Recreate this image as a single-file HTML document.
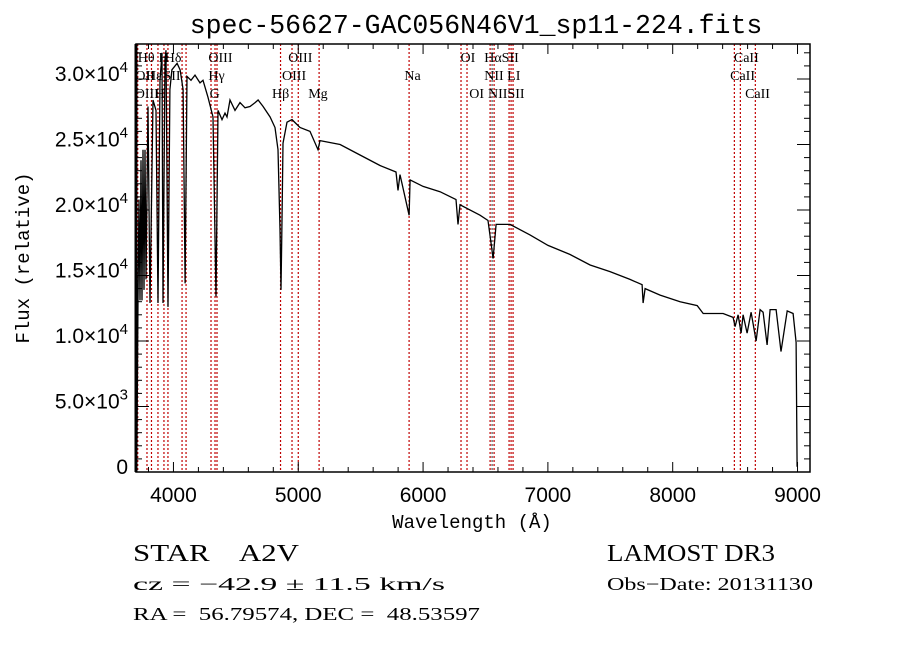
<!DOCTYPE html>
<html><head><meta charset="utf-8"><style>
body{margin:0;background:#fff;}
svg{display:block;}
text{fill:#000;}
</style></head><body>
<svg id="chart" width="900" height="649" viewBox="0 0 900 649" xmlns="http://www.w3.org/2000/svg">
<rect x="0" y="0" width="900" height="649" fill="#fff"/>
<text x="476" y="33" font-family="Liberation Mono, monospace" font-size="26.5" text-anchor="middle">spec-56627-GAC056N46V1_sp11-224.fits</text>
<g id="lines"></g>
<g id="labels" font-family="Liberation Serif, serif" font-size="14"></g>
<g id="spec"></g>
<g id="axes"></g>
<text x="472" y="528" font-family="Liberation Mono, monospace" font-size="19" text-anchor="middle">Wavelength (Å)</text>
<text transform="translate(29,258) rotate(-90)" font-family="Liberation Mono, monospace" font-size="19" text-anchor="middle">Flux (relative)</text>
<g font-family="Liberation Serif, serif">
<text x="133" y="561" font-size="24" textLength="166" lengthAdjust="spacingAndGlyphs" xml:space="preserve">STAR    A2V</text>
<text x="607" y="561" font-size="24" textLength="168" lengthAdjust="spacingAndGlyphs">LAMOST DR3</text>
<text x="133" y="590" font-size="18" textLength="312" lengthAdjust="spacingAndGlyphs">cz = −42.9 ± 11.5 km/s</text>
<text x="607" y="590" font-size="18" textLength="206" lengthAdjust="spacingAndGlyphs">Obs−Date: 20131130</text>
<text x="133" y="620" font-size="18" textLength="347" lengthAdjust="spacingAndGlyphs" xml:space="preserve">RA =  56.79574, DEC =  48.53597</text>
</g>
</svg>
<script>
const wave = [3700,3708,3716,3724,3732,3740,3748,3756,3764,3772,3780,3796,3812,3836,3860,3876,3892,3908,3916,3932,3940,3956,3972,3988,4029,4053,4077,4093,4109,4141,4173,4213,4237,4277,4317,4341,4357,4389,4413,4429,4453,4493,4533,4573,4613,4654,4678,4718,4774,4814,4838,4854,4862,4870,4878,4910,4950,5014,5094,5158,5174,5335,5495,5655,5783,5799,5815,5888,5896,6000,6136,6264,6280,6296,6456,6520,6561,6585,6697,6857,7001,7178,7338,7498,7658,7755,7763,7779,7899,8059,8196,8244,8404,8484,8500,8524,8548,8564,8596,8628,8668,8700,8724,8756,8780,8828,8868,8917,8965,8989,8997];
const flux = [0,2400,13100,20800,13100,23800,13100,24600,13900,24600,14700,27900,12900,28400,27600,12900,29900,32000,12900,31500,32200,12600,29200,30700,31200,30700,29200,14400,30200,29900,30300,29700,29900,28600,27100,13400,27600,26900,27400,27100,28400,27600,28200,27800,27900,28200,28400,27900,27100,26300,24600,18500,13900,19200,25100,26700,26900,26300,26000,24600,25300,25000,24200,23400,22900,21500,22700,19600,22300,21800,21400,20800,18900,20400,19600,19200,16300,18900,18900,18100,17300,16600,15800,15300,14700,14300,12900,14000,13500,13000,12700,12100,12100,11800,11100,12000,10600,12000,10600,12200,10000,12400,12200,9700,12400,12400,9200,12300,12100,9900,400];
const lineWaves = [3714,3788,3824,3876,3924,3956,4069,4101,4301,4333,4349,4858,4950,5000,5167,5888,6304,6352,6537,6553,6569,6689,6705,6721,8494,8542,8662];
const labelText = ["Hθ","H","Hδ","OIII","OIII","OI","HαSII","CaII","OII","Hε","SII","Hγ","OIII","Na","NII LI","CaII","OIII","H","G","Hβ","Mg","OI","NIISII","CaII"];
const labelWave = [3714,3880,3930,4280,4920,6300,6490,8490,3695,3780,3920,4280,4870,5850,6490,8460,3690,3850,4290,4790,5080,6370,6520,8580];
const labelRow = [0,0,0,0,0,0,0,0,1,1,1,1,1,1,1,1,2,2,2,2,2,2,2,2];
const xTicks = [4000,5000,6000,7000,8000,9000];
const yTicks = [0,5000,10000,15000,20000,25000,30000];
const yTickMant = ["0","5.0×10","1.0×10","1.5×10","2.0×10","2.5×10","3.0×10"];
const yTickExp = ["","3","4","4","4","4","4"];

const L=136,R=810,T=44,B=472;
const xmin=3700,xmax=9100;
function X(w){return L+(w-xmin)/(xmax-xmin)*(R-L);}
function Y(f){return B-f/10000*131;}
const NS='http://www.w3.org/2000/svg';
function mk(tag,parent,attrs){const e=document.createElementNS(NS,tag);for(const k in attrs)e.setAttribute(k,attrs[k]);parent.appendChild(e);return e;}

const gl=document.getElementById('lines');
lineWaves.forEach((w,i)=>{
  const gray=(w===6553);
  const l=mk('line',gl,{x1:X(w),x2:X(w),y1:T,y2:B,stroke:gray?'#555':'#c00000','stroke-width':1.2,'stroke-dasharray':'2,2'});
  
  
});
const glab=document.getElementById('labels');
labelText.forEach((t,i)=>{
  const e=mk('text',glab,{x:X(labelWave[i]),y:62+labelRow[i]*18});
  e.textContent=t;
  
  
});
const gs=document.getElementById('spec');
const pts=wave.map((w,i)=>X(w).toFixed(1)+','+Y(flux[i]).toFixed(1)).join(' ');
const pl=mk('polyline',gs,{points:pts,fill:'none',stroke:'#000','stroke-width':1.3});



const ga=document.getElementById('axes');
const fr=mk('rect',ga,{x:L,y:T,width:R-L,height:B-T,fill:'none',stroke:'#000','stroke-width':1.5});


mk('line',ga,{x1:L,x2:L,y1:T,y2:B,stroke:'#000','stroke-width':3});
for(let w=3800;w<=9100;w+=200){
  const major=(w%1000===0);const len=major?10:5;
  mk('line',ga,{x1:X(w),x2:X(w),y1:B,y2:B-len,stroke:'#000','stroke-width':1});
  mk('line',ga,{x1:X(w),x2:X(w),y1:T,y2:T+len,stroke:'#000','stroke-width':1});
}
xTicks.forEach(w=>{
  const t=mk('text',ga,{x:X(w),y:502,'font-family':'Liberation Sans, sans-serif','font-size':21,'text-anchor':'middle'});
  t.textContent=String(w);
  
  
});
for(let f=1000;f<=32000;f+=1000){
  const major=(f%5000===0);const len=major?13:6;
  mk('line',ga,{x1:L,x2:L+len,y1:Y(f),y2:Y(f),stroke:'#000','stroke-width':1});
  mk('line',ga,{x1:R,x2:R-len,y1:Y(f),y2:Y(f),stroke:'#000','stroke-width':1});
}
yTicks.forEach((f,i)=>{
  const t=mk('text',ga,{x:128,y:Y(f)+2,'font-family':'Liberation Sans, sans-serif','font-size':21,'text-anchor':'end'});
  const a=mk('tspan',t,{});a.textContent=yTickMant[i];
  if(yTickExp[i]){const b=mk('tspan',t,{dy:-9,'font-size':15});b.textContent=yTickExp[i];}
  
  
});
</script>
</body></html>
